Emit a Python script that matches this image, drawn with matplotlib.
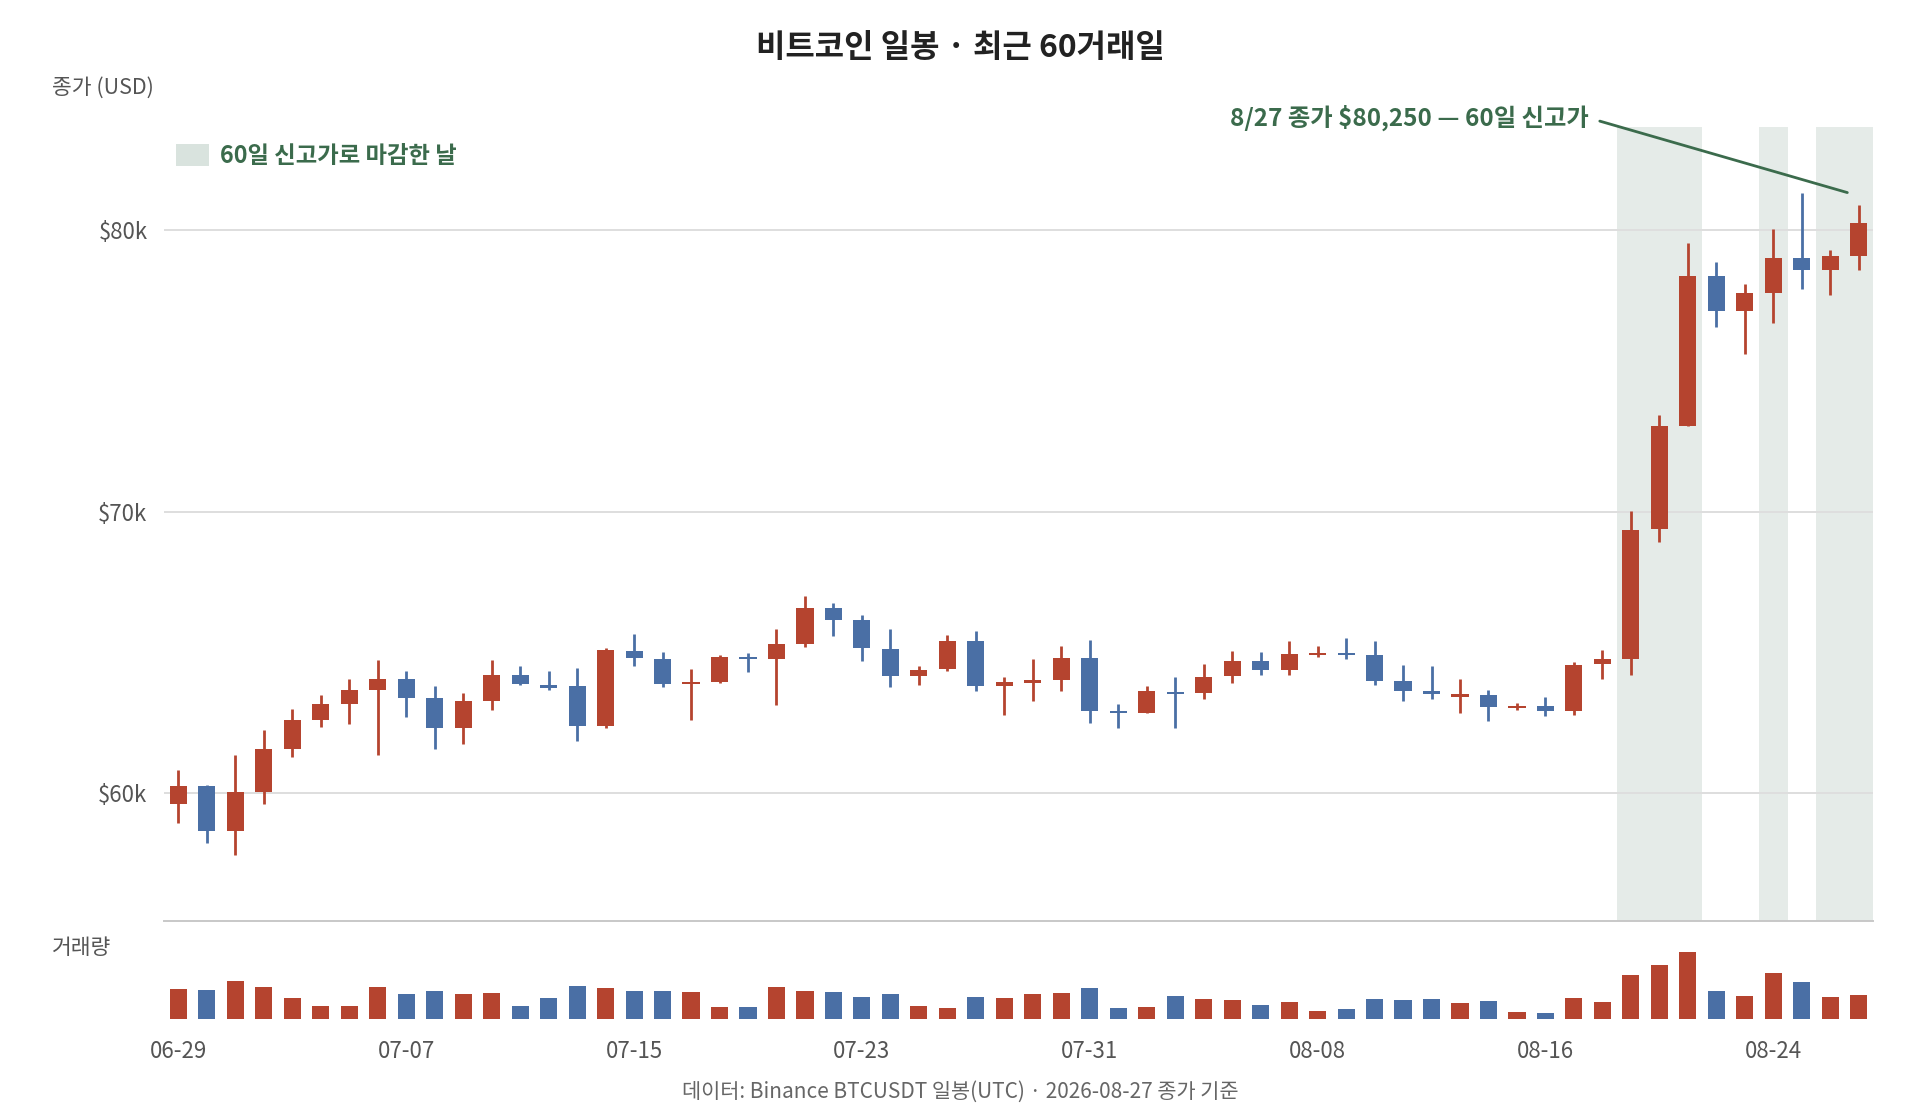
import pandas as pd
import matplotlib
matplotlib.use('Agg')
import matplotlib.pyplot as plt
from matplotlib.patches import Patch

plt.rcParams['font.family'] = ['Noto Sans CJK KR', 'DejaVu Sans']

# 일봉 데이터 (USD), 2026-06-29 ~ 2026-08-27
datas = pd.date_range('2026-06-29', periods=60, freq='D')

aberturas = [59630, 60280, 58680, 60050, 61590, 62620, 63170, 63690, 64070, 63400,
             62340, 63270, 64190, 63840, 63810, 62380, 65070, 64780, 63880, 63970,
             64860, 64770, 65300, 66580, 66150, 65140, 64180, 64410, 65430, 63810,
             63930, 64020, 64820, 62930, 62860, 63600, 63560, 64160, 64700, 64380,
             64900, 64990, 64930, 64000, 63640, 63440, 63510, 63020, 63110, 62940,
             64580, 64760, 69380, 73060, 78380, 77130, 77780, 79030, 78600, 79070]
fechamentos = [60280, 58680, 60050, 61590, 62620, 63170, 63690, 64070, 63400, 62340,
               63270, 64190, 63870, 63760, 62380, 65090, 64800, 63870, 63970, 64860,
               64770, 65290, 66580, 66160, 65150, 64180, 64400, 65430, 63800, 63950,
               64020, 64820, 62930, 62840, 63620, 63520, 64140, 64700, 64380, 64960,
               64990, 64910, 64000, 63640, 63520, 63520, 63080, 63110, 62940, 64570,
               64760, 69370, 73060, 78380, 77130, 77780, 79030, 78600, 79070, 80250]
maximas = [60820, 60300, 61380, 62240, 63010, 63490, 64050, 64730, 64350, 63810,
           63550, 64730, 64540, 64340, 64460, 65150, 65650, 65030, 64410, 64900,
           64990, 65830, 67010, 66770, 66350, 65840, 64510, 65610, 65780, 64130,
           64790, 65230, 65450, 63190, 63830, 64120, 64590, 65070, 65030, 65420,
           65230, 65510, 65420, 64560, 64540, 64050, 63670, 63220, 63420, 64650,
           65090, 70040, 73440, 79540, 78870, 78100, 80060, 81320, 79300, 80890]
minimas = [58940, 58230, 57830, 59630, 61290, 62360, 62480, 61350, 62720, 61590,
           61740, 62980, 63860, 63690, 61860, 62320, 64530, 63780, 62600, 63930,
           64320, 63130, 65190, 65600, 64700, 63780, 63850, 64340, 63650, 62780,
           63290, 63640, 62500, 62320, 62840, 62340, 63370, 63930, 64220, 64220,
           64840, 64780, 63840, 63290, 63360, 62840, 62570, 62980, 62750, 62790,
           64070, 64210, 68940, 73060, 76550, 75600, 76720, 77900, 77690, 78600]
# 거래량 (천 BTC)
volumes = [22.8, 22.0, 28.8, 24.3, 15.8, 10.0, 10.0, 24.3, 19.0, 21.3,
           19.0, 19.8, 10.0, 15.8, 24.8, 23.5, 21.0, 21.5, 20.8, 9.0,
           9.3, 24.3, 21.5, 20.5, 16.8, 19.0, 10.0, 8.8, 16.8, 15.8,
           19.0, 19.5, 23.3, 8.5, 9.3, 17.5, 15.3, 14.5, 10.8, 13.3,
           6.3, 7.8, 15.3, 14.5, 15.3, 12.0, 13.8, 5.8, 5.0, 16.0,
           13.3, 33.0, 40.8, 50.5, 21.3, 17.5, 34.5, 28.3, 16.8, 18.3]
# 60일 신고가로 마감한 날
dias_novo_maximo = ['2026-08-19', '2026-08-20', '2026-08-21', '2026-08-24', '2026-08-26', '2026-08-27']

cor_alta = '#b5442f'
cor_baixa = '#4a6fa5'
cor_destaque = '#e5ebe8'
cor_verde = '#3b6b4c'

n = len(datas)
xs = list(range(n))
cores = [cor_alta if fechamentos[i] >= aberturas[i] else cor_baixa for i in xs]

fig = plt.figure(figsize=(19.2, 11.2), dpi=100)
ax = fig.add_axes([0.0855, 0.178, 0.8900, 0.7086])
ax_vol = fig.add_axes([0.0855, 0.0899, 0.8900, 0.0753])

# destaque dos dias de novo máximo
datas_str = list(datas.strftime('%Y-%m-%d'))
for d in dias_novo_maximo:
    i = datas_str.index(d)
    ax.axvspan(i - 0.5, i + 0.5, color=cor_destaque, lw=0, zorder=0)

# velas
ax.vlines(xs, minimas, maximas, colors=cores, lw=2.0, zorder=3)
corpo_base = [min(aberturas[i], fechamentos[i]) for i in xs]
corpo_alt = [max(abs(fechamentos[i] - aberturas[i]), 70) for i in xs]
ax.bar(xs, corpo_alt, bottom=corpo_base, width=0.6, color=cores, zorder=4)

faixa = max(maximas) - min(minimas)
ax.set_ylim(min(minimas) - 0.1 * faixa, max(maximas) + 0.1 * faixa)
ax.set_xlim(-0.5, n - 0.5)
ax.set_yticks([60000, 70000, 80000])
ax.set_yticklabels([f'${v // 1000}k' for v in [60000, 70000, 80000]])
ax.grid(axis='y', color='#dedede', lw=1.4, zorder=1)
ax.set_axisbelow(True)
ax.set_xticks([])
for lado in ['top', 'right', 'left']:
    ax.spines[lado].set_visible(False)
ax.spines['bottom'].set_color('#c8c8c8')
ax.spines['bottom'].set_linewidth(1.4)
ax.tick_params(axis='y', length=0, pad=12, labelsize=16, labelcolor='#555555')

# volume
ax_vol.bar(xs, volumes, width=0.6, color=cores)
ax_vol.set_xlim(-0.5, n - 0.5)
ax_vol.set_ylim(0, max(volumes) * 1.25)
ax_vol.set_yticks([])
for lado in ['top', 'right', 'left', 'bottom']:
    ax_vol.spines[lado].set_visible(False)
pos_ticks = xs[::8]
ax_vol.set_xticks(pos_ticks)
ax_vol.set_xticklabels([datas[i].strftime('%m-%d') for i in pos_ticks])
ax_vol.tick_params(axis='x', length=0, pad=15, labelsize=16, labelcolor='#555555')

# legenda
leg = ax.legend(handles=[Patch(facecolor='#d9e3de', edgecolor='none', label='60일 신고가로 마감한 날')],
                loc='center left', bbox_to_anchor=(176 / 1920, 1 - 156 / 1120),
                bbox_transform=fig.transFigure, frameon=False, borderpad=0, borderaxespad=0,
                handlelength=1.4, handleheight=1.05, handletextpad=0.5,
                prop={'size': 16.8, 'weight': 'bold'}, labelcolor=cor_verde)

# anotação do último fechamento
ax.annotate(f'{datas[-1].month}/{datas[-1].day} 종가 ${fechamentos[-1]:,} — 60일 신고가',
            xy=(n - 1 - 0.4, maximas[-1] + 450), xycoords='data',
            xytext=(1589 / 1920, 1 - 118 / 1120), textcoords='figure fraction',
            ha='right', va='center', fontsize=17.5, fontweight='bold', color=cor_verde,
            arrowprops=dict(arrowstyle='-', color=cor_verde, lw=2.0,
                            shrinkA=6, shrinkB=0, relpos=(1, 0.5)))

fig.text(0.5, 1 - 48 / 1120, '비트코인 일봉 · 최근 60거래일', ha='center', va='center',
         fontsize=23, fontweight='bold', color='#222222')
fig.text(52 / 1920, 1 - 88 / 1120, '종가 (USD)', ha='left', va='center',
         fontsize=15.5, color='#555555')
fig.text(52 / 1920, 1 - 948 / 1120, '거래량', ha='left', va='center',
         fontsize=15.5, color='#555555')
fig.text(0.5, 1 - 1092 / 1120, '데이터: Binance BTCUSDT 일봉(UTC) · 2026-08-27 종가 기준',
         ha='center', va='center', fontsize=15, color='#666666')

fig.savefig('out.png', dpi=100)
